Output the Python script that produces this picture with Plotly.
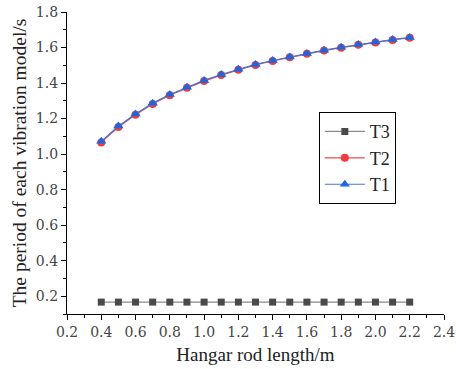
import plotly.graph_objects as go

lengths = [0.4, 0.5, 0.6, 0.7, 0.8, 0.9, 1.0, 1.1, 1.2, 1.3, 1.4, 1.5, 1.6, 1.7, 1.8, 1.9, 2.0, 2.1, 2.2]
t1 = [1.072, 1.158, 1.226, 1.287, 1.336, 1.377, 1.415, 1.448, 1.478, 1.505, 1.527, 1.547, 1.567, 1.585, 1.601, 1.617, 1.631, 1.645, 1.657]
t2 = [1.066, 1.153, 1.221, 1.282, 1.331, 1.373, 1.411, 1.445, 1.475, 1.502, 1.524, 1.545, 1.565, 1.583, 1.599, 1.615, 1.629, 1.643, 1.655]
t3 = [0.167] * 19
x_ticks = [0.2, 0.4, 0.6, 0.8, 1.0, 1.2, 1.4, 1.6, 1.8, 2.0, 2.2, 2.4]
y_ticks = [0.2, 0.4, 0.6, 0.8, 1.0, 1.2, 1.4, 1.6, 1.8]

font = "Liberation Serif, Times New Roman, serif"
tick_font = "DejaVu Serif, serif"

fig = go.Figure()
fig.add_trace(go.Scatter(x=lengths, y=t3, name="T3", mode="lines+markers",
                         line=dict(color="#8a8a8a", width=1.2),
                         marker=dict(symbol="square", size=7, color="#4a4a4a")))
fig.add_trace(go.Scatter(x=lengths, y=t2, name="T2", mode="lines+markers",
                         line=dict(color="#f04848", width=1.2),
                         marker=dict(symbol="circle", size=8, color="#f03c3c")))
fig.add_trace(go.Scatter(x=lengths, y=t1, name="T1", mode="lines+markers",
                         line=dict(color="#3a78d8", width=1.2),
                         marker=dict(symbol="triangle-up", size=9, color="#1f66dd")))

fig.update_layout(
    width=456, height=369,
    margin=dict(l=67, r=12, t=12, b=55, autoexpand=False),
    paper_bgcolor="white", plot_bgcolor="white",
    font=dict(family=font, size=16, color="#333333"),
    showlegend=True,
    legend=dict(x=0.668, y=0.668, xanchor="left", yanchor="top",
                bordercolor="black", borderwidth=1, bgcolor="white",
                font=dict(family=font, size=18, color="#222222"),
                tracegroupgap=0, itemwidth=40),
    xaxis=dict(range=[0.2, 2.4], tickvals=x_ticks, ticktext=[f"{v:.1f}" for v in x_ticks],
               automargin=False,
               showgrid=False, zeroline=False, showline=True, linecolor="black", linewidth=1.2,
               ticks="outside", ticklen=5, tickcolor="black",
               minor=dict(ticks="outside", ticklen=3, dtick=0.1, tickcolor="black"),
               title=dict(text="Hangar rod length/m", font=dict(family=font, size=19, color="#222222"), standoff=8),
               tickfont=dict(family=tick_font, size=14, color="#444444")),
    yaxis=dict(range=[0.1, 1.8], tickvals=y_ticks, ticktext=[f"{v:.1f}" for v in y_ticks],
               automargin=False,
               showgrid=False, zeroline=False, showline=True, linecolor="black", linewidth=1.2,
               ticks="outside", ticklen=5, tickcolor="black",
               minor=dict(ticks="outside", ticklen=3, dtick=0.1, tickcolor="black"),
               title=dict(text="The period of each vibration model/s", font=dict(family=font, size=19.5, color="#222222"), standoff=4),
               tickfont=dict(family=tick_font, size=14, color="#444444")),
)

fig.write_html("out.html",
               config={"displayModeBar": False},
               post_script="document.body.style.margin='0';document.body.style.padding='0';")
